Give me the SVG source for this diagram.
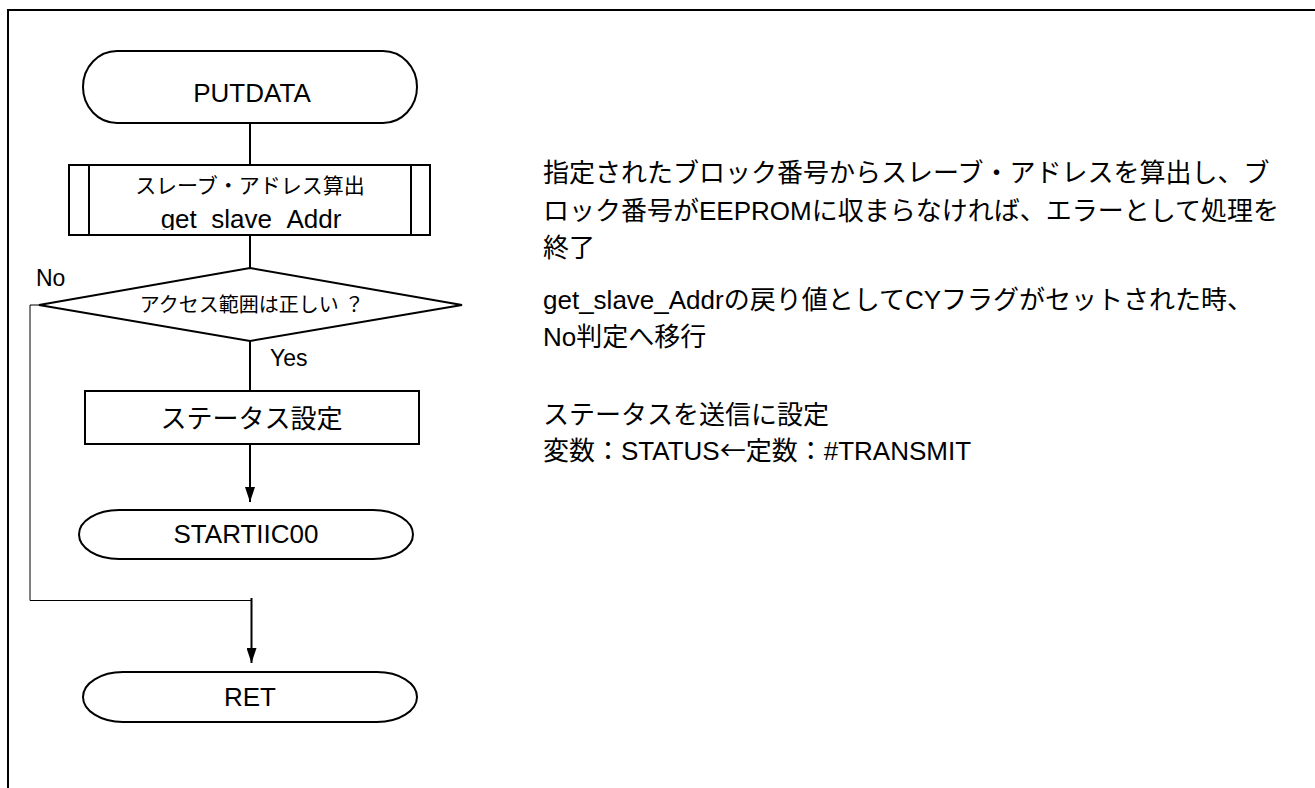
<svg xmlns="http://www.w3.org/2000/svg" width="1315" height="788" viewBox="0 0 1315 788">
<style>
.shape{fill:#fff;stroke:#000;stroke-width:2}
.ln{fill:none;stroke:#000;stroke-width:2}
.thin{fill:none;stroke:#000;stroke-width:1}
.t{font-family:"Liberation Sans","Noto Sans CJK JP",sans-serif;fill:#000}
.cjk{font-family:"Noto Sans CJK JP","Liberation Sans",sans-serif}
.c{text-anchor:middle}
</style>
<defs>
<marker id="ah" viewBox="0 0 15 10" refX="15" refY="5" markerWidth="15" markerHeight="10" markerUnits="userSpaceOnUse" orient="auto">
<path d="M0,0 L15,5 L0,10 Z" fill="#000"/>
</marker>
<clipPath id="subclip"><rect x="69" y="165" width="361" height="65"/></clipPath>
</defs>
<rect width="1315" height="788" fill="#fff"/>
<g id="frame">
<path class="ln" d="M8,788 V10 H1315"/>
</g>
<g id="connectors">
<path class="ln" d="M250,123 V165"/>
<path class="ln" d="M250,235 V268"/>
<path class="ln" d="M250,341 V391"/>
<path class="ln" d="M250,444 V502" marker-end="url(#ah)"/>
<path class="thin" d="M39,305 H30 V600.5 H251.5"/>
<path class="ln" d="M251.5,598 V663" marker-end="url(#ah)"/>
</g>
<g id="n_putdata">
<rect class="shape" x="83" y="51" width="334" height="72" rx="34" ry="36"/>
<text class="t c" x="252" y="102" font-size="26">PUTDATA</text>
</g>
<g id="n_getslave">
<rect class="shape" x="69" y="165" width="361" height="70"/>
<path class="ln" d="M89,165 V235 M411,165 V235"/>
<text class="t c" x="250" y="193" font-size="21">スレーブ・アドレス算出</text>
<text class="t c" x="251" y="228" font-size="26" clip-path="url(#subclip)">get_slave_Addr</text>
</g>
<g id="n_decision">
<polygon class="shape" points="250,268 462,305 250,341 39,305"/>
<text class="t c" x="252" y="312" font-size="20">アクセス範囲は正しい ？</text>
</g>
<text class="t" x="36" y="286" font-size="23">No</text>
<text class="t" x="270" y="366" font-size="23">Yes</text>
<g id="n_status">
<rect class="shape" x="85" y="391" width="334" height="53"/>
<text class="t c" x="251.5" y="428" font-size="26">ステータス設定</text>
</g>
<g id="n_startiic">
<rect class="shape" x="79" y="510" width="334" height="49" rx="40" ry="24.5"/>
<text class="t c" x="246" y="543" font-size="26">STARTIIC00</text>
</g>
<g id="n_ret">
<rect class="shape" x="83" y="672" width="334" height="50" rx="40" ry="25"/>
<text class="t c" x="250" y="706" font-size="26">RET</text>
</g>
<g id="notes">
<text class="t" x="543" y="182" font-size="26">指定されたブロック番号からスレーブ・アドレスを算出し、ブ</text>
<text class="t" x="543" y="220" font-size="26">ロック番号がEEPROMに収まらなければ、エラーとして処理を</text>
<text class="t" x="543" y="257" font-size="26">終了</text>
<text class="t" x="543" y="309" font-size="26">get_slave_Addrの戻り値としてCYフラグがセットされた時、</text>
<text class="t" x="543" y="346" font-size="26">No判定へ移行</text>
<text class="t" x="543" y="424" font-size="26">ステータスを送信に設定</text>
<text class="t" x="543" y="460" font-size="26">変数：STATUS<tspan class="cjk">←</tspan>定数：#TRANSMIT</text>
</g>
</svg>
